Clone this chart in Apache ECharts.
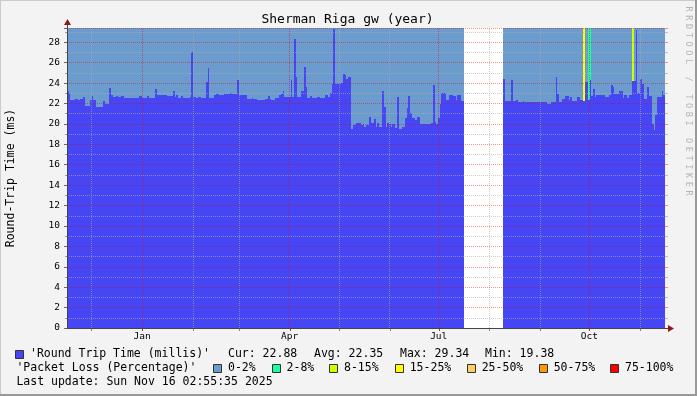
<!DOCTYPE html>
<html><head><meta charset="utf-8">
<script src="https://cdn.jsdelivr.net/npm/echarts@6/dist/echarts.min.js"></script>
<style>html,body{margin:0;padding:0;background:#f3f3f3}#c{width:697px;height:396px}</style>
</head><body><div id="c"></div>
<script>
const chartTitle = 'Sherman Riga gw (year)';
const yAxisTitle = 'Round-Trip Time (ms)';
const watermark = 'RRDTOOL / TOBI OETIKER';
const startTime = new Date(2024, 10, 16, 2, 55, 35).getTime();
const endTime = new Date(2025, 10, 16, 2, 55, 35).getTime();
// daily median round trip time (ms); null = no data
const rtt = [
23.26,23.0,22.3,22.3,22.3,22.4,22.4,22.3,22.4,22.4,
22.6,21.8,21.8,21.8,22.3,22.7,22.3,22.3,21.7,21.7,
21.7,21.7,22.25,22.0,22.0,22.0,23.5,22.8,22.6,22.6,
22.7,22.6,22.6,22.7,22.7,22.55,22.55,22.55,22.55,22.55,
22.55,22.55,22.55,22.55,22.7,22.7,22.55,22.55,22.55,22.7,
22.55,22.55,22.55,22.55,23.4,22.8,22.8,22.8,22.8,22.8,
22.8,22.7,22.7,22.7,22.7,23.2,22.6,22.8,22.5,22.5,
22.7,22.5,22.5,22.5,22.5,22.6,27.0,22.6,22.6,22.5,
22.6,22.6,22.5,22.5,22.5,24.15,25.5,22.5,22.5,22.5,
22.8,22.95,22.95,22.8,22.8,22.8,22.95,22.95,22.9,22.9,
23.05,22.95,22.95,22.95,24.35,22.8,22.8,22.8,22.85,22.85,
22.4,22.4,22.4,22.5,22.4,22.4,22.35,22.35,22.3,22.3,
22.3,22.4,22.4,22.7,22.4,22.35,22.35,22.5,22.5,22.5,
22.8,22.9,23.26,22.6,22.6,22.6,22.6,24.35,22.6,28.3,
24.6,22.6,22.6,23.2,23.2,25.6,23.65,22.55,22.55,22.7,
22.55,22.55,22.55,22.6,22.6,22.55,22.55,22.55,22.8,22.8,
22.6,23.05,23.9,29.34,23.9,23.9,23.9,23.9,24.0,24.9,
24.8,24.4,24.6,24.6,19.5,19.9,19.9,20.05,20.05,20.05,
19.9,20.0,19.7,19.9,19.9,20.7,20.1,20.1,20.5,19.7,
20.05,19.7,19.7,23.2,21.7,19.7,20.1,19.95,19.7,19.95,
19.95,19.6,22.6,19.5,19.5,19.7,19.7,20.6,21.6,22.7,
21.1,20.6,20.6,20.4,20.7,20.7,20.0,20.0,20.0,20.0,
20.0,20.0,20.0,20.05,23.85,20.2,20.0,20.55,22.0,23.0,
23.0,23.0,22.3,22.35,22.85,22.85,22.7,22.7,22.3,22.8,
22.8,22.25,22.25,null,null,null,null,null,null,null,
null,null,null,null,null,null,null,null,null,null,
null,null,null,null,null,null,null,24.45,22.25,22.25,
22.25,22.25,24.35,22.2,22.2,22.3,22.1,22.1,22.1,22.25,
22.1,22.1,22.1,22.1,22.1,22.1,22.1,22.1,22.1,22.1,
22.1,22.1,22.1,22.1,22.0,22.0,22.1,22.1,22.1,24.6,
22.95,22.1,22.1,22.4,22.4,22.7,22.7,22.3,22.6,22.25,
22.25,22.25,22.6,22.6,22.35,22.35,22.25,24.15,24.15,22.35,
24.35,22.7,23.4,22.6,22.85,22.85,22.8,22.85,22.85,22.6,
22.6,22.6,22.8,23.85,23.65,22.95,22.95,22.95,23.26,23.26,
22.5,22.8,22.8,22.5,22.8,22.8,24.25,24.25,29.25,23.05,
23.05,24.45,23.9,22.4,22.4,23.65,22.7,22.7,20.0,19.38,
20.9,22.6,22.6,22.6,23.26,22.88
];
// packet loss episodes: [day index, loss class index]
const lossEvents = [[316, 3], [319, 1], [320, 1], [346, 2]];
const lossLabels = ['0-2%', '2-8%', '8-15%', '15-25%', '25-50%', '50-75%', '75-100%'];
const lossColors = ['#6c9bcd', '#1cfca0', '#ccff00', '#ffff00', '#ffcc66', '#ff9900', '#ff0000'];
const quarterMonths = ['Jan', 'Apr', 'Jul', 'Oct'];
const rttLabel = "'Round Trip Time (millis)'";
const lossLabel = "'Packet Loss (Percentage)'";
const statNames = ['Cur:', 'Avg:', 'Max:', 'Min:'];
const statValues = ['22.88', '22.35', '29.34', '19.38'];
const lastUpdate = 'Last update: Sun Nov 16 02:55:35 2025';
const yMax = 29.4;
const yInterval = 2;

const rttColor = '#4646f5';
const FONT = 'DejaVu Sans Mono';
const dayMs = (endTime - startTime) / rtt.length;

// build [tStart, tEnd, rtt, lossClass] rows for the custom series
const lossClass = rtt.map(() => 0);
lossEvents.forEach(([d, c]) => { lossClass[d] = c; });
const dayRows = [];
rtt.forEach((v, i) => {
  if (v != null) dayRows.push([startTime + i * dayMs, startTime + (i + 1) * dayMs, v, lossClass[i]]);
});

const monthNames = ['Jan','Feb','Mar','Apr','May','Jun','Jul','Aug','Sep','Oct','Nov','Dec'];
const monthLines = [];
const monthTicks = [];
{
  const d = new Date(startTime);
  let y = d.getFullYear(), m = d.getMonth() + 1;
  while (true) {
    if (m > 11) { m = 0; y++; }
    const t = new Date(y, m, 1).getTime();
    if (t > endTime) break;
    const nm = monthNames[m];
    const q = quarterMonths.indexOf(nm) >= 0;
    monthTicks.push([t, q ? 1 : 0]);
    monthLines.push({
      xAxis: t, name: nm,
      lineStyle: { color: q ? 'rgba(230,0,0,0.45)' : 'rgba(170,170,170,0.6)', type: [1, 1], width: 1 },
      label: { show: q, formatter: nm }
    });
    m++;
  }
}

const F = sz => sz + 'px "' + FONT + '"';
const graphics = [];
graphics.push({ type: 'text', x: 347.5, y: 19.5, style: { text: chartTitle, font: F(13), fill: '#000', align: 'center', verticalAlign: 'middle' } });
graphics.push({ type: 'text', x: 11, y: 178, rotation: Math.PI / 2, style: { text: yAxisTitle, font: F(11.5), fill: '#000', align: 'center', verticalAlign: 'middle' } });
watermark.split('').forEach((ch, i) => graphics.push({
  type: 'text', x: 688, y: 9 + i * 8.77, rotation: -Math.PI / 2,
  style: { text: ch, font: F(8.5), fill: '#b4b4b4', align: 'center', verticalAlign: 'middle' }
}));
// legend row 1
graphics.push({ type: 'rect', shape: { x: 15.5, y: 350.5, width: 8, height: 8 }, style: { fill: rttColor, stroke: '#333', lineWidth: 1 } });
graphics.push({ type: 'text', x: 30, y: 354.5, style: { text: rttLabel, font: F(11.5), fill: '#000', verticalAlign: 'middle' } });
const statX = [228, 314, 400, 485];
statNames.forEach((n, i) => graphics.push({ type: 'text', x: statX[i], y: 354.5, style: { text: n + ' ' + statValues[i], font: F(11.5), fill: '#000', verticalAlign: 'middle' } }));
// legend row 2
graphics.push({ type: 'text', x: 16.4, y: 368.5, style: { text: lossLabel, font: F(11.5), fill: '#000', verticalAlign: 'middle' } });
const lossBoxX = [213, 271.6, 329, 394.7, 466.7, 538.7, 610];
lossLabels.forEach((l, i) => {
  graphics.push({ type: 'rect', shape: { x: Math.round(lossBoxX[i]) + 0.5, y: 364.5, width: 8, height: 8 }, style: { fill: lossColors[i], stroke: '#333', lineWidth: 1 } });
  graphics.push({ type: 'text', x: lossBoxX[i] + 15, y: 368.5, style: { text: l, font: F(11.5), fill: '#000', verticalAlign: 'middle' } });
});
graphics.push({ type: 'text', x: 16.4, y: 382.5, style: { text: lastUpdate, font: F(11.5), fill: '#000', verticalAlign: 'middle' } });
// axis arrows
graphics.push({ type: 'line', shape: { x1: 67.5, y1: 28, x2: 67.5, y2: 23 }, style: { stroke: '#444', lineWidth: 1 } });
graphics.push({ type: 'polygon', shape: { points: [[64, 25], [71, 25], [67.5, 19]] }, style: { fill: '#8b1a1a' } });
graphics.push({ type: 'line', shape: { x1: 665, y1: 328.5, x2: 670, y2: 328.5 }, style: { stroke: '#444', lineWidth: 1 } });
graphics.push({ type: 'polygon', shape: { points: [[668, 325], [668, 332], [674, 328.5]] }, style: { fill: '#8b1a1a' } });
// frame shading
graphics.push({ type: 'line', shape: { x1: 0, y1: 0.5, x2: 697, y2: 0.5 }, style: { stroke: '#cbcbcb', lineWidth: 1 } });
graphics.push({ type: 'line', shape: { x1: 0.5, y1: 0, x2: 0.5, y2: 396 }, style: { stroke: '#cbcbcb', lineWidth: 1 } });
graphics.push({ type: 'line', shape: { x1: 0, y1: 395, x2: 697, y2: 395 }, style: { stroke: '#999', lineWidth: 2 } });
graphics.push({ type: 'line', shape: { x1: 696, y1: 0, x2: 696, y2: 396 }, style: { stroke: '#999', lineWidth: 2 } });

function renderDay(params, api) {
  const t0 = api.value(0), t1 = api.value(1), v = api.value(2), c = api.value(3);
  const pTop = api.coord([t0, yMax]);
  const pVal = api.coord([t0, v]);
  const pEnd = api.coord([t1, 0]);
  const x0 = Math.round(pTop[0]), x1 = Math.round(pEnd[0]);
  const yT = Math.round(pTop[1]), yV = Math.round(pVal[1]), yB = Math.round(pEnd[1]);
  if (x1 <= x0) return null;
  return {
    type: 'group',
    children: [
      { type: 'rect', shape: { x: x0, y: yT, width: x1 - x0, height: yB - yT }, style: { fill: lossColors[c] } },
      { type: 'rect', shape: { x: x0, y: yV, width: x1 - x0, height: yB - yV }, style: { fill: rttColor } }
    ]
  };
}

const chart = echarts.init(document.getElementById('c'));
chart.setOption({
  animation: false,
  backgroundColor: '#f3f3f3',
  grid: { left: 67, right: 32, top: 28, height: 300, show: true, backgroundColor: '#ffffff', borderWidth: 0 },
  xAxis: {
    type: 'time', min: startTime, max: endTime, z: 6,
    axisLine: { show: true, lineStyle: { color: '#444', width: 1 } },
    axisTick: { show: false }, axisLabel: { show: false }, splitLine: { show: false }
  },
  yAxis: [{
    type: 'value', min: 0, max: yMax, interval: yInterval, z: 6,
    axisLine: { show: true, lineStyle: { color: '#444', width: 1 } },
    axisTick: { show: true, length: 3, lineStyle: { color: '#666' } },
    minorTick: { show: true, splitNumber: 2, length: 2, lineStyle: { color: '#999' } },
    axisLabel: { margin: 7, color: '#000', fontFamily: FONT, fontSize: 9.5, showMaxLabel: false },
    splitLine: { show: true, lineStyle: { color: 'rgba(230,0,0,0.42)', type: [1, 1], width: 1 } },
    minorSplitLine: { show: true, lineStyle: { color: 'rgba(175,175,175,0.6)', type: [1, 1], width: 1 } }
  }, {
    type: 'value', min: 0, max: yMax, interval: yInterval, position: 'right', z: 6,
    axisLine: { show: false },
    axisTick: { show: true, length: 3, lineStyle: { color: 'rgba(230,0,0,0.42)' } },
    minorTick: { show: true, splitNumber: 2, length: 3, lineStyle: { color: 'rgba(175,175,175,0.8)' } },
    axisLabel: { show: false }, splitLine: { show: false }
  }],
  graphic: graphics,
  series: [
    {
      name: 'rtt', type: 'custom', data: dayRows, z: 2, silent: true,
      encode: { x: [0, 1], y: 2 },
      renderItem: renderDay
    },
    {
      name: 'months', type: 'line', data: [], z: 5, silent: true,
      markLine: {
        silent: true, symbol: ['none', 'none'], animation: false,
        label: { position: 'start', distance: 4, color: '#000', fontFamily: FONT, fontSize: 9.5 },
        data: monthLines
      }
    },
    {
      name: 'monthTicks', type: 'custom', data: monthTicks, z: 6, silent: true, clip: false,
      renderItem: (params, api) => {
        const p = api.coord([api.value(0), 0]);
        const x = Math.round(p[0]) + 0.5;
        return { type: 'line', shape: { x1: x, y1: p[1], x2: x, y2: p[1] + 3 },
          style: { stroke: api.value(1) ? '#c03030' : '#888', lineWidth: 1 } };
      }
    }
  ]
});
</script></body></html>
